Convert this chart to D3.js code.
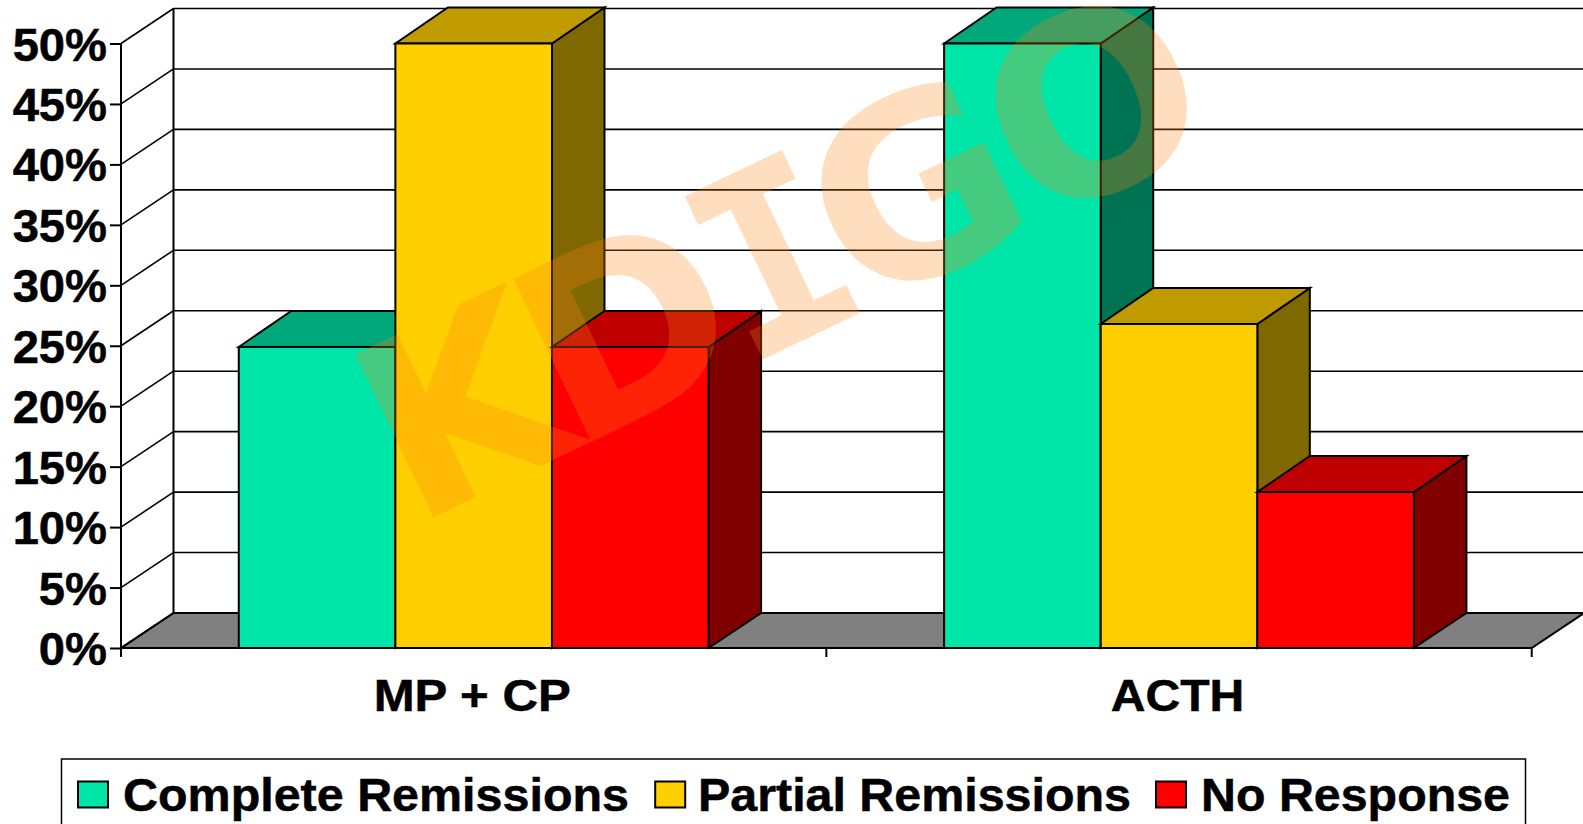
<!DOCTYPE html>
<html><head><meta charset="utf-8">
<script src="https://cdn.jsdelivr.net/npm/d3@7/dist/d3.min.js"></script>
<style>html,body{margin:0;padding:0;background:#fff;overflow:hidden}svg{display:block}</style>
</head><body><svg id="c" width="1583" height="824"></svg>
<script>
const categories = ["MP + CP", "ACTH"];
const seriesNames = ["Complete Remissions", "Partial Remissions", "No Response"];
const completeRemissions = [24.9, 50];
const partialRemissions = [50, 26.8];
const noResponse = [24.9, 12.9];
const yTicks = [0, 5, 10, 15, 20, 25, 30, 35, 40, 45, 50];
const frontColors = ["#00e6a8", "#ffcf00", "#ff0000"];
const topColors = ["#00a87c", "#bf9b00", "#bf0000"];
const sideColors = ["#007353", "#806800", "#800000"];
const watermarkLetters = ["K", "D", "I", "G", "O"];

const series = [completeRemissions, partialRemissions, noResponse];
const svg = d3.select("#c");
const font = "'Liberation Sans', Arial, sans-serif";
const X0 = 121, X1 = 1531.7, DX = 52.5, DY = -35, BAR_TOP_DY = -36;
const y = d3.scaleLinear().domain([0, 50]).range([648, 43.5]);
const x = d3.scaleBand().domain(categories).range([X0, X1]).paddingInner(0).paddingOuter(0);
const xs = d3.scaleBand().domain(seriesNames).range([0, x.bandwidth()]).paddingInner(0).paddingOuter(0.752);
const line = d3.line();
const poly = p => line(p) + "Z";
const stretch = (sel, k) => sel.each(function () {
  this.setAttribute("textLength", this.getComputedTextLength() * k);
  this.setAttribute("lengthAdjust", "spacingAndGlyphs");
});

// back wall and floor
const wall = svg.append("g");
wall.append("path")
  .attr("d", poly([[X0, y(0)], [X0 + DX, y(0) + DY], [X1 + DX, y(0) + DY], [X1, y(0)]]))
  .attr("fill", "#808080").attr("stroke", "#000").attr("stroke-width", 2);
const grid = wall.selectAll("g.grid").data(yTicks).join("g");
grid.append("line")
  .attr("x1", X0).attr("y1", d => y(d)).attr("x2", X0 + DX).attr("y2", d => y(d) + DY)
  .attr("stroke", "#000").attr("stroke-width", 1.6);
grid.append("line")
  .attr("x1", X0 + DX).attr("y1", d => y(d) + DY).attr("x2", X1 + DX).attr("y2", d => y(d) + DY)
  .attr("stroke", "#000").attr("stroke-width", 1.6);
wall.append("line").attr("x1", X0 + DX).attr("x2", X0 + DX).attr("y1", y(0) + DY).attr("y2", y(50) + DY)
  .attr("stroke", "#000").attr("stroke-width", 2);

// bars
const bars = svg.append("g");
categories.forEach((cat, ci) => {
  seriesNames.forEach((name, si) => {
    const v = series[si][ci];
    const l = x(cat) + xs(name), r = l + xs.bandwidth(), t = y(v), b = y(0);
    const g = bars.append("g").attr("stroke", "#000").attr("stroke-width", 2).attr("stroke-linejoin", "miter");
    g.append("path").attr("fill", sideColors[si]).attr("d", poly([[r, t], [r + DX, t + BAR_TOP_DY], [r + DX, b + DY], [r, b]]));
    g.append("path").attr("fill", topColors[si]).attr("d", poly([[l, t], [l + DX, t + BAR_TOP_DY], [r + DX, t + BAR_TOP_DY], [r, t]]));
    g.append("rect").attr("fill", frontColors[si]).attr("x", l).attr("y", t).attr("width", r - l).attr("height", b - t);
  });
});

// axes
const yAxis = d3.axisLeft(y).tickValues(yTicks).tickFormat(d => d + "%").tickSize(11).tickPadding(3);
const ya = svg.append("g").attr("transform", `translate(${X0},0)`).call(yAxis);
ya.select(".domain").attr("stroke", "#000").attr("stroke-width", 2).attr("d", `M0,${y(50)}V${y(0) + 9}`);
ya.selectAll(".tick line").attr("stroke", "#000").attr("stroke-width", 2);
ya.selectAll("text").attr("font-family", font).attr("font-weight", 700).attr("font-size", 46).attr("fill", "#000")
  .attr("stroke", "#000").attr("stroke-width", 0.5).attr("dy", "0.36em").call(stretch, 1.025);

const xa = svg.append("g").attr("transform", `translate(0,${y(0)})`)
  .call(d3.axisBottom(x).tickValues([]).tickSizeOuter(0));
xa.select(".domain").attr("stroke", "#000").attr("stroke-width", 2).attr("d", `M${X0},0H${X1}`);
xa.selectAll(".sep").data([X0, (X0 + X1) / 2, X1]).join("line").attr("class", "sep")
  .attr("x1", d => d).attr("x2", d => d).attr("y1", 0).attr("y2", 9).attr("stroke", "#000").attr("stroke-width", 2);
svg.append("g").selectAll("text").data(categories).join("text")
  .attr("x", d => x(d) + x.bandwidth() / 2 - 1.5).attr("y", 711).attr("text-anchor", "middle")
  .attr("font-family", font).attr("font-weight", 700).attr("font-size", 45).attr("fill", "#000")
  .attr("stroke", "#000").attr("stroke-width", 0.5)
  .text(d => d).each(function (d, i) {
    this.setAttribute("textLength", [197, 133.5][i]);
    this.setAttribute("lengthAdjust", "spacingAndGlyphs");
  });

// watermark
const wm = svg.append("g").attr("transform", "translate(413,527) rotate(-25.6)")
  .attr("fill", "#ff8012").attr("fill-opacity", 0.27);
const wmFonts = ["'DejaVu Sans'", "'DejaVu Sans'", "'DejaVu Sans Mono'", "'DejaVu Sans'", "'DejaVu Sans'"];
const wmX = [0, 175, 367, 496, 690];
watermarkLetters.forEach((c, i) => {
  wm.append("text").attr("x", wmX[i]).attr("y", 0).attr("font-family", wmFonts[i])
    .attr("font-weight", 700).attr("font-size", 248).text(c);
});

// legend
const leg = svg.append("g");
leg.append("rect").attr("x", 61.5).attr("y", 759).attr("width", 1464).attr("height", 80)
  .attr("fill", "#fff").attr("stroke", "#000").attr("stroke-width", 1.5);
const legKeyX = [78, 655.2, 1156];
const legTextX = [123, 698, 1201];
const legTextW = [506, 433, 309];
seriesNames.forEach((n, i) => {
  leg.append("rect").attr("x", legKeyX[i]).attr("y", 781.5).attr("width", 30).attr("height", 26)
    .attr("fill", frontColors[i]).attr("stroke", "#000").attr("stroke-width", 2);
  leg.append("text").attr("x", legTextX[i]).attr("y", 810.5).attr("font-family", font).attr("font-weight", 700)
    .attr("font-size", 46).attr("fill", "#000").attr("stroke", "#000").attr("stroke-width", 0.5)
    .attr("textLength", legTextW[i]).attr("lengthAdjust", "spacingAndGlyphs").text(n);
});
</script></body></html>
